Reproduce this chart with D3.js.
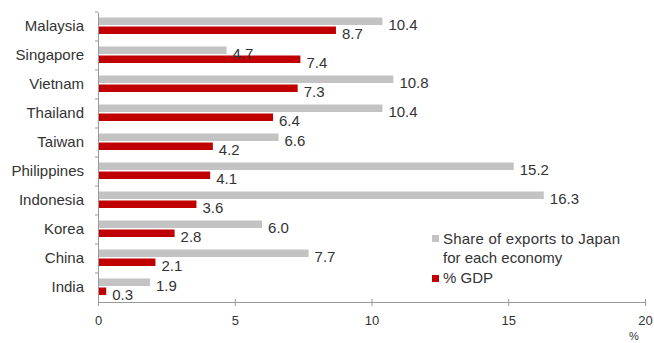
<!DOCTYPE html>
<html><head><meta charset="utf-8">
<script src="https://cdn.jsdelivr.net/npm/d3@7/dist/d3.min.js"></script>
<style>
html,body{margin:0;padding:0;background:#fff;}
svg text{font-family:"Liberation Sans",Arial,sans-serif;fill:#333;}
</style></head>
<body><svg id="c" width="654" height="343"></svg>
<script>
const economies = ["Malaysia","Singapore","Vietnam","Thailand","Taiwan","Philippines","Indonesia","Korea","China","India"];
const exportShare = [10.4,4.7,10.8,10.4,6.6,15.2,16.3,6.0,7.7,1.9];
const gdpShare = [8.7,7.4,7.3,6.4,4.2,4.1,3.6,2.8,2.1,0.3];
const xTicks = [0,5,10,15,20];
const legendLabels = [["Share of exports to Japan","for each economy"],["% GDP"]];

const GREY = "#c3c3c3", RED = "#c00000";
const FONT = "Liberation Sans, Arial, sans-serif";
const svg = d3.select("#c");
const x = d3.scaleLinear().domain([0,20]).range([98,645]);
const y = d3.scaleBand().domain(economies).range([12,302]);

// paired bars with value labels
const g = svg.append("g");
economies.forEach((e,i)=>{
  const y0 = y(e);
  g.append("rect").attr("x",x(0)).attr("y",y0+5.5).attr("width",x(exportShare[i])-x(0)).attr("height",7.5).attr("fill",GREY);
  g.append("rect").attr("x",x(0)).attr("y",y0+14.5).attr("width",x(gdpShare[i])-x(0)).attr("height",7.5).attr("fill",RED);
  g.append("text").attr("x",x(exportShare[i])+6).attr("y",y0+13).attr("dy","0.35em").attr("font-size",15).text(exportShare[i].toFixed(1));
  g.append("text").attr("x",x(gdpShare[i])+6).attr("y",y0+22).attr("dy","0.35em").attr("font-size",15).text(gdpShare[i].toFixed(1));
});

// y axis
const ya = svg.append("g").attr("transform",`translate(${x(0)},0)`)
  .call(d3.axisLeft(y).tickSize(0).tickPadding(14));
ya.select(".domain").attr("stroke","#999");
ya.selectAll("text").attr("font-size",15).attr("fill","#333").style("font-family",FONT);
// category separator ticks
ya.selectAll("line.sep").data(economies).enter().append("line").attr("class","sep")
  .attr("x1",-3).attr("x2",0).attr("y1",d=>y(d)).attr("y2",d=>y(d)).attr("stroke","#999");

// x axis
const xa = svg.append("g").attr("transform","translate(0,302)")
  .call(d3.axisBottom(x).tickValues(xTicks).tickSizeInner(4).tickSizeOuter(0).tickPadding(10));
xa.select(".domain").attr("stroke","#999");
xa.selectAll(".tick line").attr("stroke","#999").attr("y1",-3);
xa.selectAll("text").attr("font-size",13).attr("fill","#333").style("font-family",FONT);
svg.append("text").attr("x",634).attr("y",336).attr("dy","0.35em").attr("text-anchor","middle").attr("font-size",11).text("%");

// legend
const lg = svg.append("g");
lg.append("rect").attr("x",432).attr("y",235).attr("width",7).attr("height",7).attr("fill",GREY);
lg.append("rect").attr("x",432).attr("y",275).attr("width",7).attr("height",7).attr("fill",RED);
lg.append("text").attr("x",443).attr("y",238.5).attr("dy","0.35em").attr("font-size",15)
  .attr("textLength",177).attr("lengthAdjust","spacing").text(legendLabels[0][0]);
lg.append("text").attr("x",443).attr("y",258).attr("dy","0.35em").attr("font-size",15).text(legendLabels[0][1]);
lg.append("text").attr("x",443).attr("y",278).attr("dy","0.35em").attr("font-size",15).text(legendLabels[1][0]);
</script></body></html>
